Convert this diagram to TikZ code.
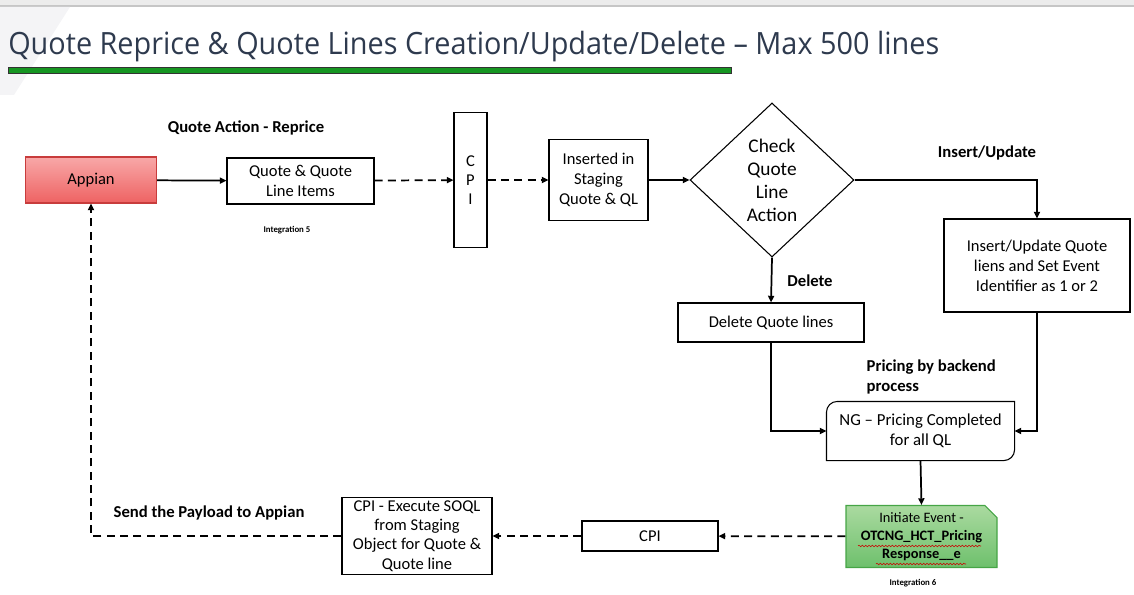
\documentclass[tikz,border=0pt]{standalone}
\usepackage{fontspec}
\setmainfont{Carlito}
\newfontfamily\titlefont{Open Sans}[FakeStretch=0.94]
\usetikzlibrary{shapes.geometric, shapes.misc, arrows.meta, decorations.pathmorphing}
\definecolor{titleink}{RGB}{46, 58, 78}
\definecolor{bargreen}{RGB}{22, 150, 34}
\definecolor{appiantop}{RGB}{248, 168, 168}
\definecolor{appianbot}{RGB}{238, 98, 98}
\definecolor{appianline}{RGB}{200, 60, 60}
\definecolor{eventtop}{RGB}{170, 218, 160}
\definecolor{eventbot}{RGB}{110, 192, 108}
\definecolor{eventline}{RGB}{70, 165, 70}

\begin{document}
\begin{tikzpicture}[x=0.75pt, y=-0.75pt,
    box/.style={rectangle, draw, line width=0.8pt, align=center, inner sep=2pt, font=\fontsize{12.4}{14.5}\selectfont},
    lbl/.style={font=\fontsize{12.5}{15}\selectfont\bfseries},
    tag/.style={font=\fontsize{6.6}{8}\selectfont\bfseries},
    arr/.style={-{Triangle[length=5pt, width=4.5pt]}, line width=1.3pt},
    darr/.style={arr, dash pattern=on 6pt off 4pt}
]
\useasboundingbox (0,0) rectangle (1134,595);

% Page header
\fill[gray!15] (0,0) rectangle (1134,6);
\draw[gray!45, line width=0.8pt] (0,6) -- (1134,6);
\fill[blue!10!gray!8] (0,7) -- (70,7) -- (14,95) -- (0,95) -- cycle;
\node[anchor=base west, inner sep=0, text=titleink, font=\titlefont\fontsize{23}{28}\selectfont] (title) at (8,55) {Quote Reprice \& Quote Lines Creation/Update/Delete – Max 500 lines};
\draw[fill=bargreen, draw=black!80, line width=0.6pt] (8,67) rectangle (731,73);

% Request from Appian
\node[box, minimum width=98.25pt, minimum height=34.5pt, top color=appiantop, bottom color=appianbot, draw=appianline] (appian) at (91,180) {Appian};
\node[box, minimum width=110.25pt, minimum height=34.5pt] (items) at (300.5,181) {Quote \& Quote\\Line Items};
\node[box, minimum width=24.75pt, minimum height=101.25pt] (cpi) at (470.5,180) {C\\P\\I};
\node[box, minimum width=74.25pt, minimum height=60.75pt, font=\fontsize{12.4}{15}\selectfont] (staging) at (598.5,180) {Inserted in\\Staging\\Quote \& QL};
\node[diamond, draw, line width=0.8pt, inner sep=0, minimum width=123pt, minimum height=115.5pt, align=center, font=\fontsize{14.5}{17.25}\selectfont] (check) at (772,180) {Check\\Quote\\Line\\Action};

% Branches
\node[box, minimum width=139.5pt, minimum height=69.75pt, font=\fontsize{12.4}{15}\selectfont] (upsert) at (1037,265.5) {Insert/Update Quote\\liens and Set Event\\Identifier as 1 or 2};
\node[box, minimum width=139.5pt, minimum height=29.25pt] (del) at (771,322.5) {Delete Quote lines};
\node[box, draw=none, minimum width=140.25pt, minimum height=43.5pt, font=\fontsize{12.6}{15}\selectfont] (priced) at (920.5,431) {NG – Pricing Completed\\for all QL};
\draw[line width=0.8pt] (priced.north west) -- (priced.north east) [rounded corners=8pt] -- (priced.south east) [sharp corners] -- (priced.south west) [rounded corners=8pt] -- cycle;

% Response back to Appian
\node[box, chamfered rectangle, chamfered rectangle corners=north east, chamfered rectangle xsep=6pt, minimum width=113.25pt, minimum height=44.25pt, top color=eventtop, bottom color=eventbot, draw=eventline, font=\fontsize{10.8}{13.5}\selectfont] (event) at (921.5,536.5) {Initiate Event -\\\textbf{OTCNG\_HCT\_Pricing}\\\textbf{Response\_\_e}};
\node[box, minimum width=102pt, minimum height=22.5pt] (cpi2) at (650,536) {CPI};
\node[box, minimum width=112.5pt, minimum height=57pt] (soql) at (417,536) {CPI - Execute SOQL\\from Staging\\Object for Quote \&\\Quote line};

% Spell-check marks
\draw[red!80!black, line width=0.4pt, decorate, decoration={snake, amplitude=0.6pt, segment length=2.5pt}] (858,546) -- (981,546);
\draw[red!80!black, line width=0.4pt, decorate, decoration={snake, amplitude=0.6pt, segment length=2.5pt}] (876,564) -- (966,564);

% Flow
\draw[arr] (appian) -- (items);
\draw[darr] (items) -- (cpi);
\draw[darr] (cpi) -- (staging);
\draw[arr] (staging) -- (check);
\draw[arr] (check.east) -| (upsert.north);
\draw[arr] (check.south) -- (del.north);
\draw[arr] (del.south) |- (priced.west);
\draw[arr] (upsert.south) |- (priced.east);
\draw[arr] (priced.south) -- (event.north);
\draw[darr] (event) -- (cpi2);
\draw[darr] (cpi2) -- (soql);
\draw[darr] (soql.west) -| (appian.south);

% Labels
\node[lbl] (reprice) at (246,128) {Quote Action - Reprice};
\node[lbl] (upd) at (987,153) {Insert/Update};
\node[lbl] (dellbl) at (810,281) {Delete};
\node[lbl, anchor=north west, align=left] (backend) at (862,355) {Pricing by backend\\process};
\node[lbl] (payload) at (209,513) {Send the Payload to Appian};
\node[tag] (int5) at (287,230) {Integration 5};
\node[tag] (int6) at (913,583) {Integration 6};
\end{tikzpicture}
\end{document}
